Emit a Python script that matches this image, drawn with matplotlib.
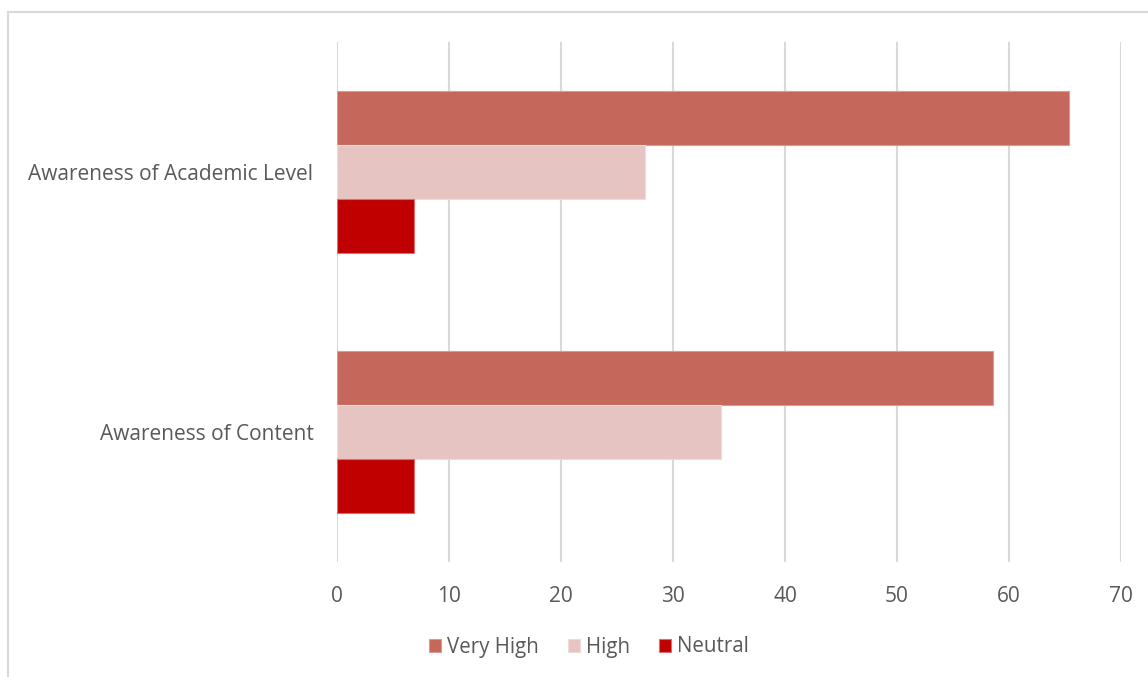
import matplotlib
matplotlib.use("Agg")
import matplotlib.pyplot as plt
from matplotlib.patches import Rectangle
import numpy as np

categories = ["Awareness of Content", "Awareness of Academic Level"]
series_names = ["Very High", "High", "Neutral"]
very_high = [58.6, 65.4]
high = [34.3, 27.5]
neutral = [6.9, 6.9]
xticks = [0, 10, 20, 30, 40, 50, 60, 70]

colors = ["#C5675A", "#E6C4C2", "#C00000"]
edges = ["#DE9A90", "#F0DADA", "#E26A6A"]

plt.rcParams['font.family'] = ['Open Sans', 'DejaVu Sans']

W, H = 1148, 677
fig = plt.figure(figsize=(W / 100, H / 100), dpi=100)
ax = fig.add_axes([337 / W, 1 - 562 / H, (1121 - 337) / W, (562 - 42) / H])

y = np.arange(len(categories))
h = 54 / 260
data = [very_high, high, neutral]
offsets = [h, 0, -h]
handles = []
for vals, off, c, ec, name in zip(data, offsets, colors, edges, series_names):
    b = ax.barh(y + off, vals, height=h, color=c, edgecolor=ec, linewidth=0.8,
                label=name, zorder=3)
    handles.append(b)

ax.set_xlim(0, 70)
ax.set_ylim(-0.5, 1.5)
ax.set_xticks(xticks)
ax.set_xticklabels([str(t) for t in xticks])
ax.set_yticks(y)
ax.set_yticklabels(categories)
ax.grid(axis='x', color='#D9D9D9', linewidth=1.5, zorder=0)
ax.set_axisbelow(True)
for s in ax.spines.values():
    s.set_visible(False)
ax.tick_params(axis='both', length=0, labelsize=15, colors='#595959')
ax.tick_params(axis='x', pad=17)
ax.tick_params(axis='y', pad=17)

leg = fig.legend(handles=handles, labels=series_names, loc='center',
                 bbox_to_anchor=(589 / W, 1 - 647 / H), ncol=3, frameon=False,
                 fontsize=14.8, handlelength=0.6, handleheight=0.6,
                 handletextpad=0.3, columnspacing=1.4)
for t in leg.get_texts():
    t.set_color('#595959')

fig.patches.append(Rectangle((8 / W, -0.1), 1.1, 1 - 12 / H + 0.1,
                             transform=fig.transFigure, fill=False,
                             edgecolor='#D9D9D9', linewidth=1.5))

fig.savefig("out.png", dpi=100)
